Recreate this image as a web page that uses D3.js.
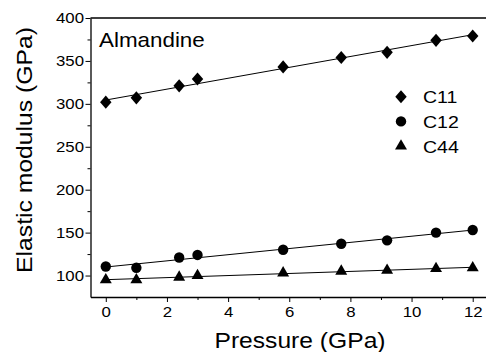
<!DOCTYPE html>
<html>
<head>
<meta charset="utf-8">
<script src="https://cdn.jsdelivr.net/npm/d3@7"></script>
<style>
  html, body { margin: 0; padding: 0; background: #fff; }
  svg { display: block; font-family: "Liberation Sans", Arial, sans-serif; }
</style>
</head>
<body>
<div id="chart"></div>
<script>
// pressure (GPa)
const pressure = [0, 1, 2.4, 3, 5.8, 7.7, 9.2, 10.8, 12];
// elastic constants (GPa)
const c11 = [302, 307, 321, 329, 343, 354, 360, 374, 379];
const c12 = [110.5, 109, 121, 124, 130, 137, 141, 150, 153];
const c44 = [95, 95, 98, 100, 103, 105, 106, 108, 109];
const seriesNames = ["C11", "C12", "C44"];
const xTicks = [0, 2, 4, 6, 8, 10, 12];
const yTicks = [100, 150, 200, 250, 300, 350, 400];

const W = 486, H = 352;
const margin = { left: 90.5, top: 18, right: -2, bottom: 55 };
const STRETCH = 1.12; // 元の図の文字は少し横長

const svg = d3.select("#chart").append("svg")
  .attr("width", W)
  .attr("height", H)
  .attr("viewBox", `0 0 ${W} ${H}`);

const x = d3.scaleLinear()
  .domain([-0.5, 12.5])
  .range([margin.left, W - margin.right]);

const y = d3.scaleLinear()
  .domain([75, 400])
  .range([H - margin.bottom, margin.top]);

const addText = (tx, ty, str, size, anchor, rotate = 0, s = STRETCH) =>
  svg.append("text")
    .attr("transform", `translate(${tx},${ty}) rotate(${rotate}) scale(${s},1)`)
    .attr("text-anchor", anchor)
    .attr("font-size", size)
    .attr("fill", "#000")
    .text(str);

// 枠線 (上と右)
svg.append("path")
  .attr("d", `M${margin.left},${margin.top}H${W - margin.right}V${H - margin.bottom}`)
  .attr("fill", "none")
  .attr("stroke", "#000")
  .attr("stroke-width", 1.3);

// Y軸
const yAxis = svg.append("g")
  .attr("transform", `translate(${margin.left},0)`)
  .call(d3.axisLeft(y).tickValues(yTicks).tickSize(5).tickSizeOuter(0));
yAxis.selectAll("text")
  .attr("x", -6.5 / STRETCH)
  .attr("transform", `scale(${STRETCH},1)`)
  .attr("font-size", "15px")
  .attr("font-family", "Liberation Sans, Arial, sans-serif")
  .attr("fill", "#000");
yAxis.select(".domain").attr("stroke-width", 1.3);
// 副目盛り
svg.append("g")
  .attr("transform", `translate(${margin.left},0)`)
  .call(d3.axisLeft(y).tickValues(d3.range(125, 400, 50)).tickSize(3).tickFormat(""))
  .select(".domain").remove();

// X軸
const xAxis = svg.append("g")
  .attr("transform", `translate(0,${H - margin.bottom})`)
  .call(d3.axisBottom(x).tickValues(xTicks).tickSize(5).tickSizeOuter(0).tickPadding(4));
xAxis.selectAll("text")
  .attr("transform", `scale(${STRETCH},1)`)
  .attr("font-size", "15px")
  .attr("font-family", "Liberation Sans, Arial, sans-serif")
  .attr("fill", "#000");
xAxis.select(".domain").attr("stroke-width", 1.3);
svg.append("g")
  .attr("transform", `translate(0,${H - margin.bottom})`)
  .call(d3.axisBottom(x).tickValues(d3.range(1, 13, 2)).tickSize(3).tickFormat(""))
  .select(".domain").remove();

// 軸ラベル
addText(300, 347.5, "Pressure (GPa)", "22px", "middle");
addText(32, 150, "Elastic modulus (GPa)", "21.5px", "middle", -90, 1.15);
addText(99, 47, "Almandine", "20px", "start");

// 線形フィット
const fit = (xs, ys) => {
  const mx = d3.mean(xs), my = d3.mean(ys);
  const b = d3.sum(xs, (v, i) => (v - mx) * (ys[i] - my)) / d3.sum(xs, v => (v - mx) ** 2);
  return [my - b * mx, b];
};

// 縦長のひし形
const tallDiamond = {
  draw(ctx, size) {
    const w = Math.sqrt(size / 2.3);
    const h = w * 1.15;
    ctx.moveTo(0, -h);
    ctx.lineTo(w, 0);
    ctx.lineTo(0, h);
    ctx.lineTo(-w, 0);
    ctx.closePath();
  }
};

const symbols = [tallDiamond, d3.symbolCircle, d3.symbolTriangle];
const sizes = [75, 85, 62];
const allSeries = [c11, c12, c44];

allSeries.forEach((vals, k) => {
  const [a, b] = fit(pressure, vals);
  const x0 = d3.min(pressure), x1 = d3.max(pressure);
  svg.append("line")
    .attr("x1", x(x0)).attr("y1", y(a + b * x0))
    .attr("x2", x(x1)).attr("y2", y(a + b * x1))
    .attr("stroke", "#000")
    .attr("stroke-width", 1);

  svg.append("g")
    .selectAll("path")
    .data(vals)
    .join("path")
    .attr("transform", (d, i) => `translate(${x(pressure[i])},${y(d)})`)
    .attr("d", d3.symbol(symbols[k], sizes[k]))
    .attr("fill", "#000");
});

// 凡例
seriesNames.forEach((name, k) => {
  const ly = 96.7 + k * 24.7;
  svg.append("path")
    .attr("transform", `translate(401,${ly})`)
    .attr("d", d3.symbol(symbols[k], sizes[k]))
    .attr("fill", "#000");
  addText(423, ly + 6.5, name, "17px", "start", 0, 1.15);
});
</script>
</body>
</html>
